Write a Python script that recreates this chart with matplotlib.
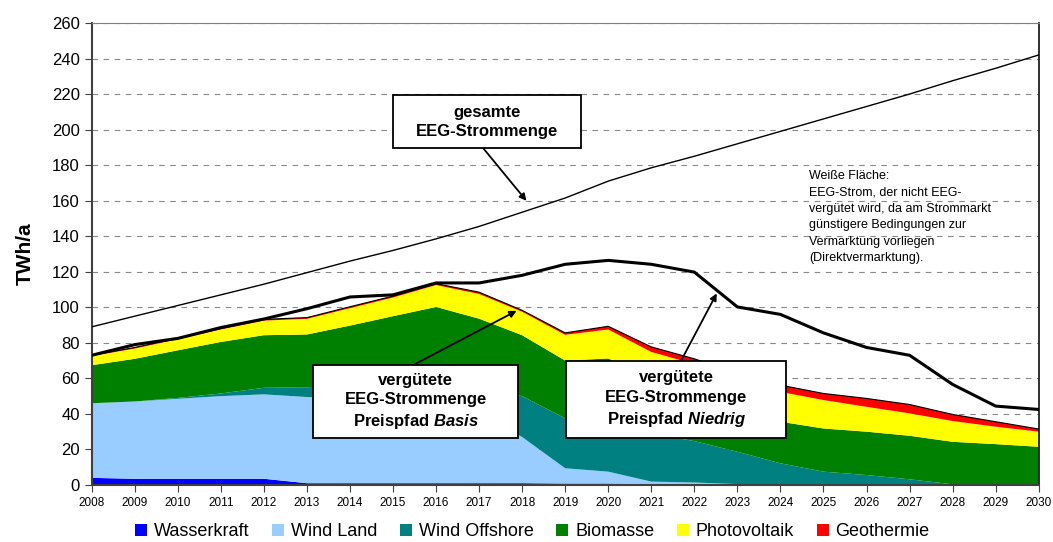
import numpy as np
import matplotlib
matplotlib.use("Agg")
import matplotlib.pyplot as plt
from matplotlib.lines import Line2D
from matplotlib.patches import Rectangle

plt.rcParams['font.family'] = ['Liberation Sans', 'DejaVu Sans']
plt.rcParams['mathtext.fontset'] = 'custom'
plt.rcParams['mathtext.rm'] = 'Liberation Sans'
plt.rcParams['mathtext.bfit'] = 'Liberation Sans:italic:bold'

# --- Data (TWh/a) ---
years = np.arange(2008, 2031)

wasserkraft = [4.0, 3.5, 3.5, 3.5, 3.5, 1.0, 1.0, 1.0, 1.0, 1.0, 1.0, 0.8,
               0.8, 0.5, 0.5, 0.3, 0.2, 0.2, 0.1, 0.1, 0.0, 0.0, 0.0]
wind_land = [42.0, 43.5, 45.0, 46.5, 47.5, 48.5, 48.0, 47.5, 46.0, 39.0, 26.0, 8.6,
             6.7, 1.4, 0.9, 0.2, 0.0, 0.0, 0.0, 0.0, 0.0, 0.0, 0.0]
wind_offshore = [0.0, 0.0, 0.5, 1.5, 3.7, 5.5, 7.0, 7.5, 8.5, 14.0, 23.0, 28.1,
                 25.5, 27.1, 23.3, 18.2, 12.0, 7.3, 5.5, 3.1, 0.4, 0.0, 0.0]
biomasse = [21.4, 24.0, 26.8, 29.0, 29.6, 29.7, 33.7, 39.0, 44.7, 39.6, 34.3, 32.5,
            38.2, 32.0, 28.3, 24.8, 23.4, 24.3, 24.4, 24.5, 23.9, 23.0, 21.5]
photovoltaik = [5.1, 5.8, 6.2, 7.0, 8.2, 8.8, 9.8, 10.5, 12.3, 13.9, 13.2, 14.5,
                16.3, 13.9, 15.0, 16.0, 16.8, 16.0, 14.0, 12.6, 11.7, 9.8, 8.5]
geothermie = [0.5, 0.6, 0.6, 0.6, 0.7, 0.7, 0.8, 0.8, 0.8, 1.0, 0.8, 1.1,
              1.8, 2.8, 3.0, 3.4, 3.8, 3.7, 4.7, 5.0, 3.7, 2.8, 1.5]

# gesamte EEG-Strommenge (thin line)
gesamt = [89, 95, 101, 107, 113, 119.5, 126, 132, 138.5, 145.5, 153.5, 161.5,
          171, 178.5, 185, 192, 199, 206, 213, 220, 227.5, 234.5, 242]
# vergütete EEG-Strommenge, Preispfad Niedrig (thick line)
niedrig = [73, 79, 82.5, 88.6, 93.4, 99.2, 105.8, 107, 113.7, 113.7, 118, 124.2,
           126.4, 124.2, 119.8, 100.2, 96, 85.6, 77.4, 73, 56.6, 44.4, 42.5]

labels = ["Wasserkraft", "Wind Land", "Wind Offshore", "Biomasse", "Photovoltaik", "Geothermie"]
colors = ["#0000FF", "#99CCFF", "#008080", "#008000", "#FFFF00", "#FF0000"]

series = [wasserkraft, wind_land, wind_offshore, biomasse, photovoltaik, geothermie]
stack_top = np.sum(np.array(series), axis=0)

# --- Plot ---
fig = plt.figure(figsize=(10.53, 5.42), dpi=100)
ax = fig.add_axes([0.0871, 0.1052, 0.8993, 0.8524])

ax.stackplot(years, *series, colors=colors, linewidth=0, zorder=2)
ax.plot(years, stack_top, color="black", linewidth=0.8, zorder=3)
ax.plot(years, gesamt, color="black", linewidth=1.0, zorder=3)
ax.plot(years, niedrig, color="black", linewidth=2.2, zorder=4)

ax.set_xlim(2008, 2030)
ax.set_ylim(0, 260)
ax.set_xticks(years)
ax.set_xticklabels([str(y) for y in years], fontsize=8.5)
ax.set_yticks(np.arange(0, 261, 20))
ax.tick_params(axis="y", labelsize=12, length=5, color="#404040")
ax.tick_params(axis="x", length=5, color="#404040")
ax.set_ylabel("TWh/a", fontsize=15, fontweight="bold", labelpad=12)

ax.set_axisbelow(True)
ax.yaxis.grid(True, color="#888888", linestyle=(0, (5, 5)), linewidth=0.8)
for s in ["left", "bottom"]:
    ax.spines[s].set_color("#404040")
    ax.spines[s].set_linewidth(1.5)
ax.spines["top"].set_color("#808080")
ax.spines["right"].set_color("#202020")
ax.spines["right"].set_linewidth(1.3)


# --- Annotation boxes ---
def box(x0, x1, y0, y1, text):
    ax.add_patch(Rectangle((x0, y0), x1 - x0, y1 - y0, facecolor="white",
                           edgecolor="black", linewidth=1.3, zorder=6))
    ax.text((x0 + x1) / 2, (y0 + y1) / 2, text, ha="center", va="center",
            fontsize=12, fontweight="bold", linespacing=1.35, zorder=7)


def arrow(xy_from, xy_to):
    ax.annotate("", xy=xy_to, xytext=xy_from, zorder=5,
                arrowprops=dict(arrowstyle="-|>", color="black", lw=1.3,
                                mutation_scale=10, shrinkA=0, shrinkB=0))


box(2014.99, 2019.36, 189.7, 219.3, "gesamte\nEEG-Strommenge")
arrow((2017.10, 189.4), (2018.10, 159.9))

box(2013.15, 2017.91, 26.3, 67.5, "vergütete\nEEG-Strommenge\nPreispfad $\\mathbfit{Basis}$")
arrow((2015.51, 68.0), (2017.87, 98.0))

box(2019.03, 2024.14, 26.3, 69.9, "vergütete\nEEG-Strommenge\nPreispfad $\\mathbfit{Niedrig}$")
arrow((2021.70, 70.3), (2022.52, 107.8))

ax.text(2024.66, 177.5,
        "Weiße Fläche:\nEEG-Strom, der nicht EEG-\nvergütet wird, da am Strommarkt\n"
        "günstigere Bedingungen zur\nVermarktung vorliegen\n(Direktvermarktung).",
        ha="left", va="top", fontsize=9, linespacing=1.5, zorder=7)

# --- Legend ---
handles = [Line2D([], [], marker="s", linestyle="", markersize=8, markeredgewidth=0,
                  markerfacecolor=c) for c in colors]
fig.legend(handles, labels, loc="lower center", bbox_to_anchor=(0.505, -0.026),
           ncol=6, frameon=False, fontsize=13, handlelength=0.8, handletextpad=0.3,
           columnspacing=1.2)

fig.savefig("out.png", dpi=100)
